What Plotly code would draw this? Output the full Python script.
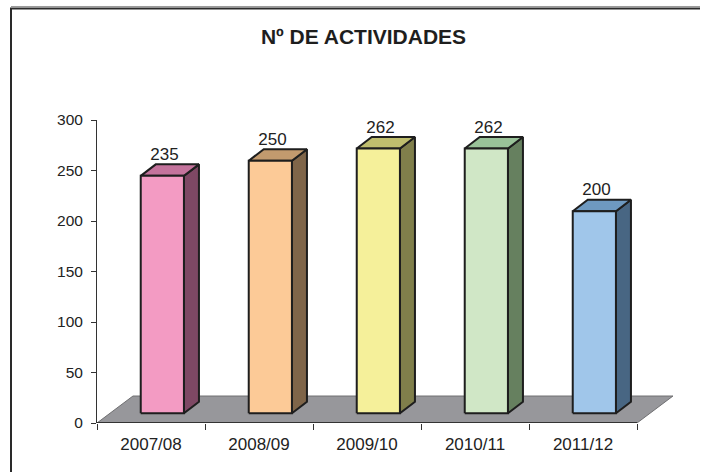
import plotly.graph_objects as go

# ---- data ----
categories = ["2007/08", "2008/09", "2009/10", "2010/11", "2011/12"]
values = [235, 250, 262, 262, 200]
y_ticks = [0, 50, 100, 150, 200, 250, 300]
title_text = "Nº DE ACTIVIDADES"

front_colors = ["#F39BC3", "#FCCA97", "#F5F09A", "#D0E7C6", "#A0C6EA"]
top_colors = ["#C4739C", "#C29A6E", "#BFBE6E", "#99C299", "#6E99C0"]
side_colors = ["#7E4864", "#7F6549", "#807F4B", "#66805F", "#486683"]

# ---- 3D geometry (style parameters) ----
FLOOR_DX, FLOOR_DY = 0.333, 26.7
BAR_SHIFT_X, BAR_BASE = 0.105, 9.7
BAR_W = 0.40
BAR_DX, BAR_DY = 0.139, 11.4
EDGE = "#1e1e1e"
FONT = "Liberation Sans, Arial, sans-serif"

n = len(categories)
x_lo, x_hi = -0.5, n - 0.5

fig = go.Figure()

fx = [x_lo, x_hi, x_hi + FLOOR_DX, x_lo + FLOOR_DX, x_lo]
fy = [0, 0, FLOOR_DY, FLOOR_DY, 0]
fig.add_trace(go.Scatter(x=fx, y=fy, mode="lines", fill="toself",
                         fillcolor="#97979B", line=dict(color="#6e6e70", width=1),
                         hoverinfo="skip", showlegend=False))
fig.add_trace(go.Scatter(x=[x_lo, x_hi], y=[0, 0], mode="lines",
                         line=dict(color="#333333", width=2),
                         hoverinfo="skip", showlegend=False))

for i, v in enumerate(values):
    x0 = i + BAR_SHIFT_X - BAR_W / 2
    x1 = i + BAR_SHIFT_X + BAR_W / 2
    y0 = BAR_BASE
    y1 = BAR_BASE + v
    fig.add_trace(go.Scatter(
        x=[x1, x1 + BAR_DX, x1 + BAR_DX, x1, x1],
        y=[y0, y0 + BAR_DY, y1 + BAR_DY, y1, y0],
        mode="lines", fill="toself", fillcolor=side_colors[i],
        line=dict(color=EDGE, width=2), hoverinfo="skip", showlegend=False))
    fig.add_trace(go.Scatter(
        x=[x0, x1, x1 + BAR_DX, x0 + BAR_DX, x0],
        y=[y1, y1, y1 + BAR_DY, y1 + BAR_DY, y1],
        mode="lines", fill="toself", fillcolor=top_colors[i],
        line=dict(color=EDGE, width=2), hoverinfo="skip", showlegend=False))
    fig.add_trace(go.Scatter(
        x=[x0, x1, x1, x0, x0],
        y=[y0, y0, y1, y1, y0],
        mode="lines", fill="toself", fillcolor=front_colors[i],
        line=dict(color=EDGE, width=2), name=categories[i],
        hovertemplate=f"{categories[i]}: {v}<extra></extra>", showlegend=False))

fig.add_trace(go.Scatter(
    x=[i + BAR_SHIFT_X + 0.02 for i in range(n)],
    y=[BAR_BASE + v + 20 for v in values],
    mode="text", text=[str(v) for v in values], textposition="middle center",
    textfont=dict(family=FONT, size=17, color="#222222"),
    hoverinfo="skip", showlegend=False, cliponaxis=False))

W, H = 701, 472
L, R, T, B = 97, 21, 120, 49
px_per_cat = 108
x_max = x_lo + (W - L - R) / px_per_cat
PW, PH = W - L - R, H - T - B
bx = (11 - L) / PW
by_top = (H - B - 8.5) / PH
by_gray = (H - B - 6.5) / PH
by_bot = -(B + 10) / PH
x_right = (W - 1 - L) / PW

frame_path = f"M {x_right:.5f},{by_top:.5f} L {bx:.5f},{by_top:.5f} L {bx:.5f},{by_bot:.5f}"
gray_path = f"M {x_right:.5f},{by_gray:.5f} L {bx:.5f},{by_gray:.5f}"

fig.update_layout(
    width=W, height=H,
    margin=dict(l=L, r=R, t=T, b=B),
    paper_bgcolor="white", plot_bgcolor="white",
    font=dict(family=FONT, color="#222222"),
    title=dict(text=f"<b>{title_text}</b>", x=363.5 / W, xanchor="center",
               y=1 - 37 / H, yanchor="middle",
               font=dict(family=FONT, size=21, color="#1e1e1e")),
    xaxis=dict(range=[x_lo, x_max], showgrid=False, zeroline=False, showline=False,
               tickmode="array", tickvals=list(range(n)), ticktext=categories,
               ticks="", tickfont=dict(family=FONT, size=17, color="#222222"),
               ticklabelstandoff=9,
               minor=dict(tickmode="array", tickvals=[k - 0.5 for k in range(n + 1)],
                          ticks="outside", ticklen=6, tickwidth=1, tickcolor="#333333",
                          showgrid=False)),
    yaxis=dict(range=[0, 300], showgrid=False, zeroline=False,
               showline=True, linecolor="#333333", linewidth=1,
               tickmode="array", tickvals=y_ticks, ticks="outside", ticklen=5,
               tickcolor="#333333", ticklabelstandoff=5,
               tickfont=dict(family=FONT, size=15.5, color="#222222")),
    shapes=[
        dict(type="path", xref="paper", yref="paper", path=gray_path,
             line=dict(color="#9a9a9a", width=1), layer="below"),
        dict(type="path", xref="paper", yref="paper", path=frame_path,
             line=dict(color="#2a2a2a", width=2), layer="below"),
    ],
)

fig.write_html("out.html",
               config={"displayModeBar": False},
               post_script=("document.documentElement.style.overflow='hidden';"
                            "document.body.style.margin='0';"
                            "document.body.style.overflow='hidden';"))
